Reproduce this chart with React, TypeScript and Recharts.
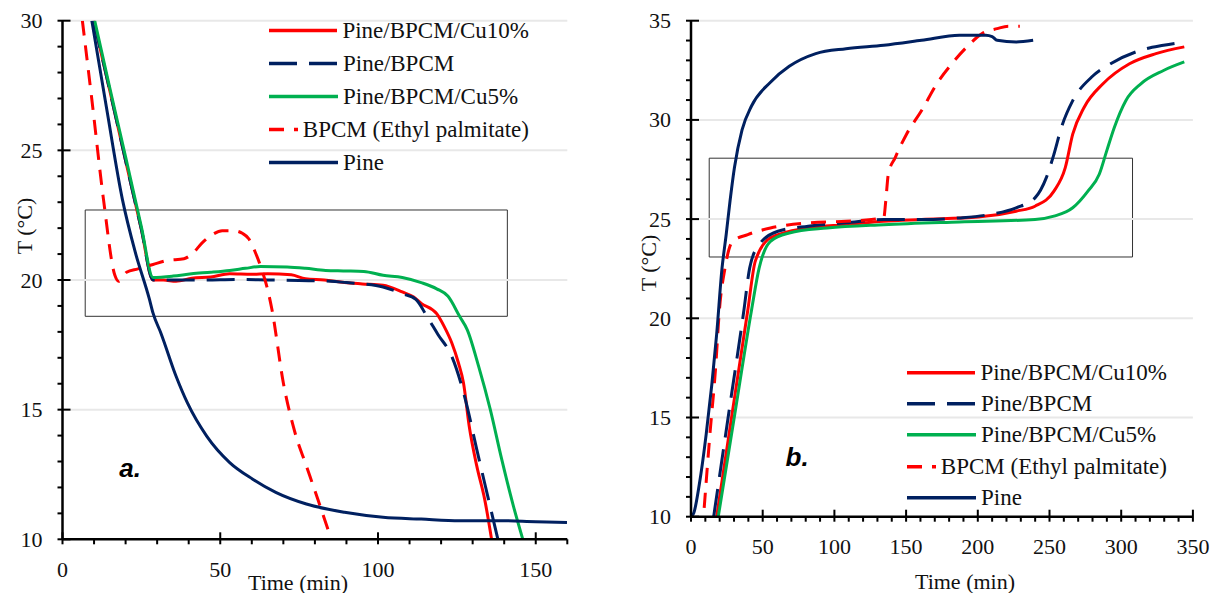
import { LineChart, Line, XAxis, YAxis, ReferenceLine, ReferenceArea, ReferenceDot, Legend } from 'recharts'

const FONT = '"Liberation Serif", "Times New Roman", serif'
const SANS = '"Liberation Sans", Arial, sans-serif'
const NAVY = '#002060'
const RED = '#ff0000'
const GREEN = '#00b050'

// series, in legend order
const seriesNames = ['Pine/BPCM/Cu10%', 'Pine/BPCM', 'Pine/BPCM/Cu5%', 'BPCM (Ethyl palmitate)', 'Pine']
const seriesColors = [RED, NAVY, GREEN, RED, NAVY]
const seriesDash = ['', '28 12', '', '15 10', '']

// (a) cooling
const coolCu10Time = [9.9, 15, 20, 25, 28.7, 32, 36, 41, 47, 53, 60, 65, 72.5, 77, 83, 89.4, 95, 101.6, 107.7, 111.3, 113.7, 118.6, 121, 123.4, 125.5, 127.1, 128.9, 131.3, 133.8, 136]
const coolCu10Temp = [30, 27.3, 24.6, 21.95, 20.0, 20.0, 19.95, 20.07, 20.12, 20.24, 20.22, 20.24, 20.2, 20.05, 20.0, 19.9, 19.85, 19.8, 19.54, 19.34, 19.1, 18.7, 18.2, 17.57, 16.8, 16.03, 14.37, 12.83, 11.55, 10.0]
const coolPbTime = [9.9, 15, 20, 25, 28.7, 35, 45, 55, 65, 75, 85, 90, 95, 101.6, 107.7, 112, 115.5, 119, 123.4, 127.7, 131.3, 135, 138]
const coolPbTemp = [30, 27.3, 24.6, 21.95, 20.0, 20.0, 20.0, 20.02, 20.0, 19.98, 19.95, 19.9, 19.85, 19.73, 19.47, 19.25, 18.6, 17.9, 17.05, 15.39, 13.47, 11.55, 10.0]
const coolCu5Time = [10.2, 15, 20, 25, 28.7, 35, 40.9, 47, 53, 58, 62.7, 71.2, 77, 83.4, 89, 95.5, 101.6, 107.7, 113.7, 118.6, 122.2, 125.9, 128.3, 131.9, 135.6, 139.2, 142.9, 145.9]
const coolCu5Temp = [30, 27.4, 24.75, 22.05, 20.1, 20.15, 20.24, 20.3, 20.37, 20.45, 20.52, 20.5, 20.45, 20.37, 20.35, 20.33, 20.18, 20.1, 19.9, 19.66, 19.37, 18.59, 18.08, 16.67, 15.0, 13.09, 11.29, 10.0]
const coolBpcmTime = [6.3, 9.3, 13, 16.6, 17.8, 20.3, 23.9, 28.7, 33, 38.5, 41, 44.5, 47.5, 50.6, 54.2, 57, 59.1, 61, 62.7, 65.2, 66.4, 70, 73.7, 77.3, 80.9, 85.2]
const coolBpcmTemp = [30, 26.96, 23.1, 20.18, 19.95, 20.3, 20.43, 20.6, 20.75, 20.82, 21.0, 21.46, 21.75, 21.9, 21.9, 21.8, 21.58, 21.1, 20.56, 19.54, 18.85, 16.03, 14.11, 12.83, 11.55, 10.0]
const coolPineTime = [9.3, 14, 19, 23, 27.5, 28.7, 31.2, 36, 39.6, 45.7, 53, 60.3, 67.6, 77.3, 89.4, 101.6, 113.7, 125.9, 138, 150, 159.9]
const coolPineTemp = [30, 26.6, 23.1, 21.1, 19.28, 18.72, 17.95, 16.29, 15.26, 13.98, 12.96, 12.32, 11.81, 11.36, 11.04, 10.85, 10.78, 10.72, 10.72, 10.68, 10.65]

// (b) heating
const heatCu10Time = [17.9, 28.7, 39.6, 44.8, 55.4, 81.7, 108.1, 134.4, 160.8, 200.3, 226.7, 239.9, 253.1, 261, 266.2, 274.2, 287.3, 305.8, 324.2, 344]
const heatCu10Temp = [10, 15.2, 20.41, 22.87, 24.05, 24.55, 24.72, 24.89, 24.98, 25.1, 25.4, 25.65, 26.41, 27.59, 29.28, 30.64, 31.82, 32.83, 33.34, 33.68]
const heatPbTime = [15.8, 26.3, 36.9, 40.9, 47.5, 60.6, 81.7, 108.1, 134.4, 160.8, 187.2, 208.2, 226.7, 239.9, 247.8, 253.1, 258.3, 266.2, 279.4, 292.6, 313.7, 329.5, 344]
const heatPbTemp = [10, 15.2, 20.41, 22.53, 23.71, 24.39, 24.64, 24.81, 24.98, 24.98, 25.06, 25.23, 25.57, 26.07, 27.09, 28.27, 29.62, 30.97, 32.16, 32.83, 33.51, 33.76, 33.93]
const heatCu5Time = [19, 30.6, 42.2, 47.5, 55.4, 68.5, 94.9, 134.4, 187.2, 239.9, 253.1, 266.2, 276.8, 284.7, 289.9, 295.2, 303.2, 313.7, 329.5, 344]
const heatCu5Temp = [10, 15.2, 20.41, 22.53, 23.88, 24.3, 24.55, 24.72, 24.86, 24.98, 25.15, 25.57, 26.41, 27.26, 28.44, 29.62, 30.97, 31.82, 32.49, 32.92]
const heatBpcmTime = [9.2, 13.2, 17.2, 19.8, 23.7, 29, 39.6, 55.4, 81.7, 108.1, 134.4, 135.8, 137.6, 142.4, 150.3, 160.8, 171.4, 181.9, 192.4, 203, 213.5, 221.4, 229.3]
const heatBpcmTemp = [10.45, 14.16, 17.54, 20.41, 22.53, 23.88, 24.22, 24.55, 24.81, 24.89, 25.06, 25.9, 27.26, 28.1, 29.28, 30.47, 31.82, 32.83, 33.68, 34.35, 34.6, 34.72, 34.72]
const heatPineTime = [0, 2, 5.8, 10.6, 17.9, 21.6, 24.5, 27.2, 30.3, 35.6, 42.2, 55.4, 68.5, 87, 108.1, 134.4, 160.8, 187.2, 205.6, 210, 213.5, 226.7, 238.6]
const heatPineTemp = [10, 10.2, 11.63, 14.16, 19.2, 22.5, 24.2, 25.9, 27.6, 29.5, 30.7, 31.9, 32.7, 33.34, 33.59, 33.76, 34.01, 34.27, 34.27, 34.2, 34.01, 33.93, 34.01]

// axes
const coolXTicks = [0, 10, 20, 30, 40, 50, 60, 70, 80, 90, 100, 110, 120, 130, 140, 150, 160]
const coolYTicks = [10, 11, 12, 13, 14, 15, 16, 17, 18, 19, 20, 21, 22, 23, 24, 25, 26, 27, 28, 29, 30]
const coolGrid = [15, 20, 25, 30]
const heatXTicks = [0, 10, 20, 30, 40, 50, 60, 70, 80, 90, 100, 110, 120, 130, 140, 150, 160, 170, 180, 190, 200, 210, 220, 230, 240, 250, 260, 270, 280, 290, 300, 310, 320, 330, 340, 350]
const heatYTicks = [10, 11, 12, 13, 14, 15, 16, 17, 18, 19, 20, 21, 22, 23, 24, 25, 26, 27, 28, 29, 30, 31, 32, 33, 34, 35]
const heatGrid = [15, 20, 25, 30, 35]

const zip = (ts: number[], vs: number[]) => ts.map((t, i) => ({ t, T: vs[i] }))

const coolData = [
  zip(coolCu10Time, coolCu10Temp),
  zip(coolPbTime, coolPbTemp),
  zip(coolCu5Time, coolCu5Temp),
  zip(coolBpcmTime, coolBpcmTemp),
  zip(coolPineTime, coolPineTemp),
]
const heatData = [
  zip(heatCu10Time, heatCu10Temp),
  zip(heatPbTime, heatPbTemp),
  zip(heatCu5Time, heatCu5Temp),
  zip(heatBpcmTime, heatBpcmTemp),
  zip(heatPineTime, heatPineTemp),
]

// tick mark (filled rect, 2px wide) plus label for majors
const XTick = ({ x, y, payload }: any) => {
  const major = payload.value % 50 === 0
  return (
    <g>
      <rect x={x - 1} y={major ? y - 7 : y} width={2} height={major ? 12 : 5} fill="#000" />
      {major && (
        <text x={x} y={y + 30} textAnchor="middle" dominantBaseline="central" fontFamily={FONT} fontSize={22} fill="#111">
          {payload.value}
        </text>
      )}
    </g>
  )
}

const YTick = ({ x, y, payload }: any) => {
  const major = payload.value % 5 === 0
  return (
    <g>
      <rect x={x - 5} y={y - 1} width={major ? 13 : 5} height={2} fill="#000" />
      {major && (
        <text x={x - 20} y={y} textAnchor="end" dominantBaseline="central" fontFamily={FONT} fontSize={22} fill="#111">
          {payload.value}
        </text>
      )}
    </g>
  )
}

function LegendBox({ rowH }: { rowH: number }) {
  return (
    <div style={{ fontFamily: FONT, fontSize: 23, color: '#111' }}>
      {seriesNames.map((name, i) => (
        <div key={name} style={{ display: 'flex', alignItems: 'center', height: rowH, whiteSpace: 'nowrap' }}>
          <svg width={69} height={rowH} style={{ display: 'block' }}>
            <line x1={0} x2={69} y1={rowH / 2} y2={rowH / 2} stroke={seriesColors[i]} strokeWidth={3.5}
              strokeDasharray={seriesDash[i] || undefined} />
          </svg>
          <span style={{ marginLeft: 5, lineHeight: `${rowH}px` }}>{name}</span>
        </div>
      ))}
    </div>
  )
}

function Panel(p: any) {
  const [x0] = p.xDomain
  const [y0] = p.yDomain
  return (
    <LineChart width={p.width} height={593} margin={p.margin}>
      {p.grid.map((g: number) => (
        <ReferenceLine key={'g' + g} y={g} stroke="#e8e8e8" strokeWidth={2} />
      ))}
      <XAxis type="number" dataKey="t" domain={p.xDomain} ticks={p.xTicks} interval={0} allowDataOverflow
        height={40} tickSize={0} tickMargin={0} tickLine={false} axisLine={false} tick={<XTick />}
        label={{ content: () => (
          <text x={p.xTitle[0]} y={p.xTitle[1]} textAnchor="middle" dominantBaseline="central" fontFamily={FONT} fontSize={22} fill="#111">Time (min)</text>
        ) }} />
      <YAxis type="number" domain={p.yDomain} ticks={p.yTicks} interval={0} allowDataOverflow
        width={50} tickSize={0} tickMargin={0} tickLine={false} axisLine={false} tick={<YTick />}
        label={{ content: () => (
          <text x={p.yTitle[0]} y={p.yTitle[1]} transform={`rotate(-90, ${p.yTitle[0]}, ${p.yTitle[1]})`} textAnchor="middle"
            dominantBaseline="central" fontFamily={FONT} fontSize={22} fill="#111">T (°C)</text>
        ) }} />
      <ReferenceArea x1={p.rect[0]} x2={p.rect[1]} y1={p.rect[2]} y2={p.rect[3]} fill="none" fillOpacity={0}
        stroke="#333" strokeWidth={1} ifOverflow="visible" />
      {p.data.map((d: any[], i: number) => (
        <Line key={seriesNames[i]} data={d} dataKey="T" name={seriesNames[i]} type="monotone"
          stroke={seriesColors[i]} strokeWidth={3} strokeDasharray={seriesDash[i] || undefined}
          dot={false} activeDot={false} isAnimationActive={false} />
      ))}
      <ReferenceLine y={y0} stroke="#000" strokeWidth={2.5} ifOverflow="visible" />
      <ReferenceLine x={x0} stroke="#000" strokeWidth={2.5} ifOverflow="visible" />
      <ReferenceDot x={p.letter[0]} y={p.letter[1]} r={0} fill="none" stroke="none"
        label={{ value: p.letterText, position: 'center', fontFamily: SANS, fontSize: 26, fontWeight: 'bold', fontStyle: 'italic', fill: '#000' }} />
      <Legend layout="vertical" align="center" verticalAlign="middle"
        wrapperStyle={{ left: p.legend[0], top: p.legend[1], width: 260, height: 'auto' }}
        content={() => <LegendBox rowH={p.legend[2]} />} />
    </LineChart>
  )
}

export default function App() {
  return (
    <div style={{ position: 'absolute', left: 0, top: 0, width: 1211, height: 593, background: '#fff', overflow: 'hidden' }}>
      <div style={{ position: 'absolute', left: 0, top: 0 }}>
        <Panel width={600} margin={{ top: 20.7, right: 32.7, bottom: 13.7, left: 12.5 }}
          xDomain={[0, 160]} xTicks={coolXTicks} yDomain={[10, 30]} yTicks={coolYTicks} grid={coolGrid}
          data={coolData} rect={[7.2, 141, 18.6, 22.7]} letter={[21.4, 12.75]} letterText="a."
          xTitle={[298, 582]} yTitle={[24, 226]} legend={[269, 13.5, 33.2]} />
      </div>
      <div style={{ position: 'absolute', left: 605, top: 0 }}>
        <Panel width={606} margin={{ top: 20.7, right: 18.1, bottom: 36.3, left: 36 }}
          xDomain={[0, 350]} xTicks={heatXTicks} yDomain={[10, 35]} yTicks={heatYTicks} grid={heatGrid}
          data={heatData} rect={[12.7, 307.9, 23.09, 28.07]} letter={[74, 13]} letterText="b."
          xTitle={[360, 581]} yTitle={[43, 263]} legend={[302, 356.6, 31.4]} />
      </div>
    </div>
  )
}
